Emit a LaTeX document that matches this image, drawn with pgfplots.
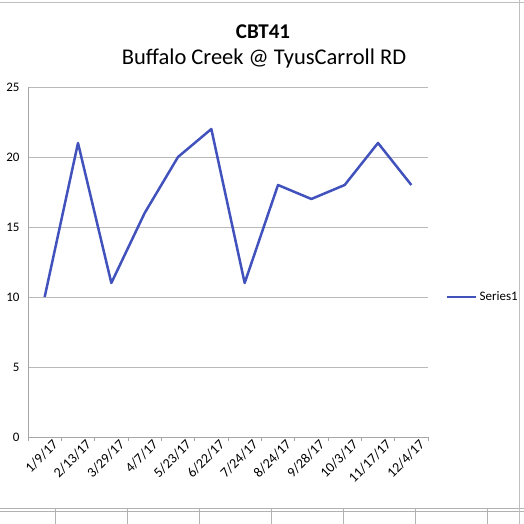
\documentclass[border=0pt]{standalone}
\usepackage{fontspec}
\setmainfont{Carlito}
\usepackage{pgfplots}
\pgfplotsset{compat=1.18}
\definecolor{serieblue}{RGB}{66,82,188}
\begin{document}
\begin{tikzpicture}[x=1pt,y=1pt]
\useasboundingbox (0,0) rectangle (524,524);
\draw[gray!60, line width=0.8pt] (0,16) -- (524,16);
\draw[gray!60, line width=0.8pt] (0,13) -- (524,13);
\foreach \xx in {55,127,199,271,343,415,487} \draw[gray!60, line width=0.6pt] (\xx,0) -- (\xx,16);
\draw[gray!50, line width=0.8pt] (519,0) -- (519,524);
\draw[gray!50, line width=0.6pt] (0,522) -- (524,522);
\node[font=\bfseries\fontsize{21}{24}\selectfont] at (263,492) {CBT41};
\node[font=\fontsize{22.5}{26}\selectfont] at (264,465) {Buffalo Creek @ TyusCarroll RD};
\begin{axis}[
  at={(28pt,87pt)}, anchor=south west,
  scale only axis, width=400pt, height=350pt,
  xmin=-0.5, xmax=11.5, ymin=0, ymax=25,
  ytick={0,5,10,15,20,25},
  xtick={0,...,11},
  xticklabels={1/9/17,2/13/17,3/29/17,4/7/17,5/23/17,6/22/17,7/24/17,8/24/17,9/28/17,10/3/17,11/17/17,12/4/17},
  x tick label style={rotate=45, anchor=north east, font=\fontsize{14}{16}\selectfont, inner sep=0pt, xshift=4pt, yshift=-6pt},
  y tick label style={font=\fontsize{13}{15}\selectfont, xshift=-5pt},
  /pgf/number format/assume math mode=true,
  ymajorgrids, grid style={gray!55, line width=0.8pt},
  axis x line*=bottom, axis y line*=left,
  axis line style={gray!70, line width=0.8pt},
  xtick style={draw=none},
  extra x ticks={-0.5,0.5,1.5,2.5,3.5,4.5,5.5,6.5,7.5,8.5,9.5,10.5,11.5},
  extra x tick labels={},
  extra x tick style={xtick style={draw=gray!70, line width=0.6pt}, major tick length=4pt, tick align=outside, xmajorgrids=false},
  ytick style={draw=none},
  legend style={at={(1.045,0.4)}, anchor=west, draw=none, fill=none, font=\fontsize{13}{15}\selectfont, legend cell align=left, inner sep=0pt, /tikz/every even column/.append style={column sep=0pt}},
  legend image post style={line width=2.5pt},
  legend image code/.code={\draw[#1] (0pt,0pt) -- (29pt,0pt);},
]
\addplot[serieblue, line width=2.5pt, line join=round] coordinates {
(0,10) (1,21) (2,11) (3,16) (4,20) (5,22) (6,11) (7,18) (8,17) (9,18) (10,21) (11,18)
};
\addlegendentry{Series1}
\end{axis}
\end{tikzpicture}
\end{document}
